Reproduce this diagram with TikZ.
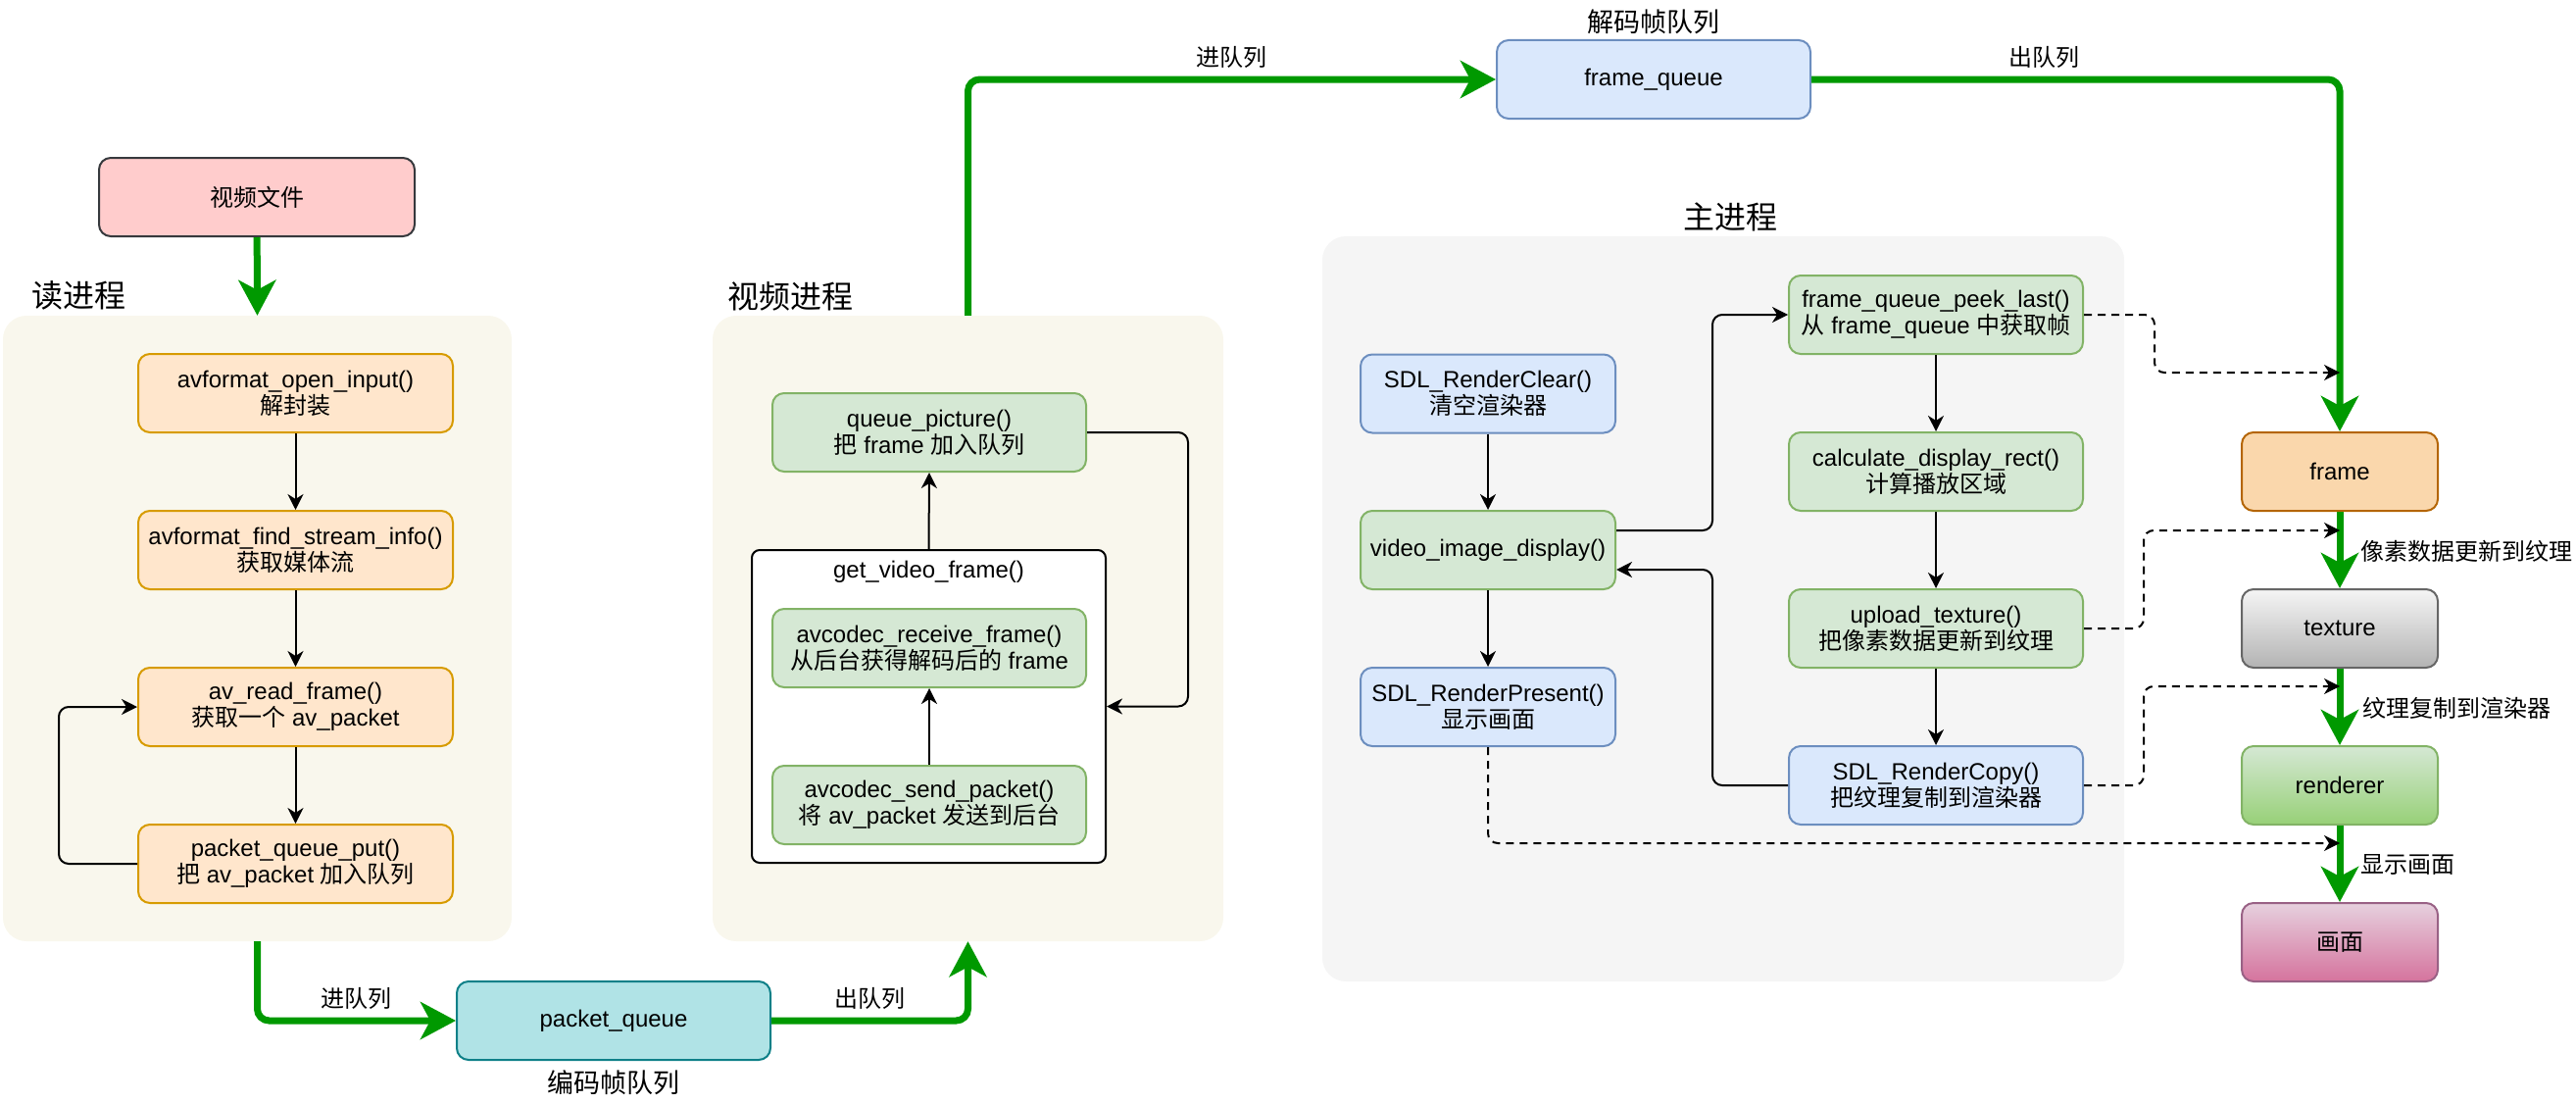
\documentclass[tikz,border=0pt]{standalone}
\usepackage{fontspec}
\setmainfont{Liberation Sans}
\newfontfamily\cjk{Noto Sans CJK SC}
\usetikzlibrary{arrows.meta}
\newcommand\boxfont{\fontsize{24}{27}\selectfont}
\newcommand\titlefont{\fontsize{32}{36}\selectfont\cjk}
\newcommand\lblfont{\fontsize{24}{27}\selectfont\cjk}
\newcommand\qlblfont{\fontsize{27}{30}\selectfont\cjk}
\definecolor{cPinkF}{HTML}{FFCCCC}\definecolor{cPinkD}{HTML}{36393D}
\definecolor{cOrF}{HTML}{FFE6CC}\definecolor{cOrD}{HTML}{D79B00}
\definecolor{cGrF}{HTML}{D5E8D4}\definecolor{cGrD}{HTML}{82B366}
\definecolor{cBlF}{HTML}{DAE8FC}\definecolor{cBlD}{HTML}{6C8EBF}
\definecolor{cTeF}{HTML}{B0E3E6}\definecolor{cTeD}{HTML}{0E8088}
\definecolor{cFrF}{HTML}{FAD7AC}\definecolor{cFrD}{HTML}{B46504}
\definecolor{cCont}{HTML}{F9F7ED}\definecolor{cMain}{HTML}{F5F5F5}
\definecolor{cGreen}{HTML}{009900}
\definecolor{cTxA}{HTML}{F5F5F5}\definecolor{cTxB}{HTML}{B3B3B3}\definecolor{cTxD}{HTML}{666666}
\definecolor{cRnA}{HTML}{D5E8D4}\definecolor{cRnB}{HTML}{97D077}
\definecolor{cPiA}{HTML}{E6D0DE}\definecolor{cPiB}{HTML}{D5739D}\definecolor{cPiD}{HTML}{996185}
\tikzset{
  base/.style={rounded corners=12pt, line width=2pt, align=center, font=\boxfont, inner sep=2pt},
  pinkbox/.style={base, fill=cPinkF, draw=cPinkD, minimum width=322pt, minimum height=80pt},
  orbox/.style={base, fill=cOrF, draw=cOrD, minimum width=321pt, minimum height=80pt},
  grbox/.style={base, fill=cGrF, draw=cGrD, minimum height=80pt},
  blbox/.style={base, fill=cBlF, draw=cBlD, minimum height=80pt},
  tebox/.style={base, fill=cTeF, draw=cTeD, minimum width=320pt, minimum height=80pt},
  rbox/.style={base, minimum width=200pt, minimum height=80pt},
  cont/.style={rounded corners=24pt, inner sep=0pt},
  title/.style={font=\titlefont, inner sep=0pt},
  arr/.style={line width=2pt, -{Stealth[length=16pt,width=16pt,inset=5pt]}, rounded corners=10pt},
  darr/.style={arr, dash pattern=on 8pt off 6pt},
  garr/.style={line width=7pt, draw=cGreen, -{Stealth[length=36pt,width=38pt,inset=10pt]}, rounded corners=12pt},
  elbl/.style={font=\lblfont, inner sep=0pt},
  rlbl/.style={font=\lblfont, inner sep=0pt, anchor=west},
}
\begin{document}
\begin{tikzpicture}[x=1pt,y=-1pt]
\useasboundingbox (0,0) rectangle (2628,1124);
% containers
\node[cont, fill=cCont, minimum width=519pt, minimum height=638pt] (readc) at (262.5,641) {};
\node[cont, fill=cCont, minimum width=521pt, minimum height=638pt] (vidc) at (987.5,641) {};
\node[cont, fill=cMain, minimum width=818pt, minimum height=760pt] (mainc) at (1758,621) {};
\node[title, anchor=west] (tread) at (32,301) {读进程};
\node[title, anchor=west] (tvid) at (742,302) {视频进程};
\node[title] (tmain) at (1765,221) {主进程};
% read process
\node[pinkbox] (file) at (262,201) {{\cjk 视频文件}};
\node[orbox] (open) at (301.5,401) {avformat\_open\_input()\\{\cjk 解封装}};
\node[orbox] (find) at (301.5,561) {avformat\_find\_stream\_info()\\{\cjk 获取媒体流}};
\node[orbox] (read) at (301.5,721) {av\_read\_frame()\\{\cjk 获取一个} av\_packet};
\node[orbox] (put) at (301.5,881) {packet\_queue\_put()\\{\cjk 把} av\_packet {\cjk 加入队列}};
\draw[arr] (open) -- (find);
\draw[arr] (find) -- (read);
\draw[arr] (read) -- (put);
\draw[arr] (put.west) -| (60,721) -- (read.west);
% video process
\node[draw, line width=2pt, rounded corners=8pt, fill=white, minimum width=361pt, minimum height=319pt, inner sep=0pt] (gvf) at (947.5,720.5) {};
\node[font=\boxfont, inner sep=0pt] (gvft) at (947.5,583) {get\_video\_frame()};
\node[grbox, minimum width=320pt] (qp) at (948,441) {queue\_picture()\\{\cjk 把} frame {\cjk 加入队列}};
\node[grbox, minimum width=320pt] (recv) at (948,661) {avcodec\_receive\_frame()\\{\cjk 从后台获得解码后的} frame};
\node[grbox, minimum width=320pt] (send) at (948,821) {avcodec\_send\_packet()\\{\cjk 将} av\_packet {\cjk 发送到后台}};
\draw[arr] (send) -- (recv);
\draw[arr] (gvf.north) -- (qp.south);
\draw[arr] (qp.east) -| (1212,720.5) -- (gvf.east);
% queues
\node[tebox] (pq) at (626,1041) {packet\_queue};
\node[font=\qlblfont, inner sep=0pt] (pql) at (626,1104) {编码帧队列};
\node[blbox, minimum width=320pt] (fq) at (1687,81) {frame\_queue};
\node[font=\qlblfont, inner sep=0pt] (fql) at (1687,22) {解码帧队列};
% main process
\node[blbox, minimum width=260pt] (clear) at (1518,401.5) {SDL\_RenderClear()\\{\cjk 清空渲染器}};
\node[grbox, minimum width=260pt] (vid) at (1518,561) {video\_image\_display()};
\node[blbox, minimum width=260pt] (present) at (1518,721) {SDL\_RenderPresent()\\{\cjk 显示画面}};
\node[grbox, minimum width=300pt] (peek) at (1975,321) {frame\_queue\_peek\_last()\\{\cjk 从} frame\_queue {\cjk 中获取帧}};
\node[grbox, minimum width=300pt] (calc) at (1975,481) {calculate\_display\_rect()\\{\cjk 计算播放区域}};
\node[grbox, minimum width=300pt] (upload) at (1975,641) {upload\_texture()\\{\cjk 把像素数据更新到纹理}};
\node[blbox, minimum width=300pt] (rcopy) at (1975,801) {SDL\_RenderCopy()\\{\cjk 把纹理复制到渲染器}};
\draw[arr] (clear) -- (vid);
\draw[arr] (vid) -- (present);
\draw[arr] (peek) -- (calc);
\draw[arr] (calc) -- (upload);
\draw[arr] (upload) -- (rcopy);
\draw[arr] ([yshift=20pt]vid.east) -| (1747,321) -- (peek.west);
\draw[arr] (rcopy.west) -| (1747,581) -- ([yshift=-20pt]vid.east);
% right column
\node[rbox, fill=cFrF, draw=cFrD] (frame) at (2387,481) {frame};
\node[rbox, top color=cTxA, bottom color=cTxB, draw=cTxD] (tex) at (2387,641) {texture};
\node[rbox, top color=cRnA, bottom color=cRnB, draw=cGrD] (rend) at (2387,801) {renderer};
\node[rbox, top color=cPiA, bottom color=cPiB, draw=cPiD] (pic) at (2387,961) {{\cjk 画面}};
% green flows
\draw[garr] (file) -- (readc.north);
\draw[garr] (readc.south) |- (pq.west) node[elbl, pos=0.75, above=8pt] {进队列};
\draw[garr] (pq.east) -| (vidc.south) node[elbl, pos=0.25, above=8pt] {出队列};
\draw[garr] (vidc.north) |- (fq.west) node[elbl, pos=0.75, above=8pt] {进队列};
\draw[garr] (fq.east) -| (frame.north) node[elbl, pos=0.22, above=8pt] {出队列};
\draw[garr] (frame) -- (tex);
\draw[garr] (tex) -- (rend);
\draw[garr] (rend) -- (pic);
\node[rlbl] (l1) at (2408,562) {像素数据更新到纹理};
\node[rlbl] (l2) at (2410,722) {纹理复制到渲染器};
\node[rlbl] (l3) at (2408,882) {显示画面};
% dashed
\coordinate (g1) at (2387,380);
\coordinate (g2) at (2387,541);
\coordinate (g3) at (2387,700);
\coordinate (g4) at (2387,860);
\draw[darr] (peek.east) -| (2198,380) -- (g1);
\draw[darr] (upload.east) -| (2187,541) -- (g2);
\draw[darr] (rcopy.east) -| (2187,700) -- (g3);
\draw[darr] (present.south) |- (g4);
\end{tikzpicture}
\end{document}
